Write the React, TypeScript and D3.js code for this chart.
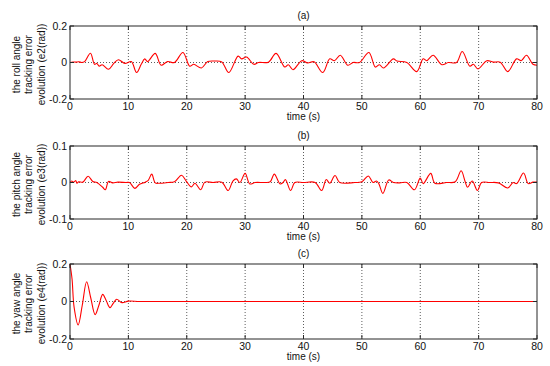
import React from "react";
import * as d3 from "d3";

const xTicks = [0, 10, 20, 30, 40, 50, 60, 70, 80];

const rollT = [0, 0.5, 1, 1.5, 2, 2.5, 3.5, 4.2, 4.6, 5.0, 5.5, 6.6, 7.5, 8.3, 9.4, 10.5, 11.4, 12.2, 12.8, 13.3, 14.6, 15.6, 16.7, 17.9, 19.35, 20.5, 21.2, 22.5, 23.6, 24.8, 26, 27.2, 28.8, 29.4, 30.25, 31.5, 32.3, 34, 35.3, 36.8, 37.4, 38.2, 39.7, 40.7, 41.8, 43.3, 44.5, 45.3, 46.3, 47.6, 48.5, 49.6, 51.2, 52.3, 53, 53.7, 55.4, 56, 57.7, 59.4, 60.5, 61.1, 62.2, 63.7, 64.8, 66.2, 67.2, 68.5, 69.1, 69.9, 71.4, 72.5, 73.7, 75, 76.5, 77.3, 78.2, 79.3, 80];
const rollV = [0, 0.003, 0.002, 0.004, 0, 0.005, 0.051, -0.01, -0.005, -0.02, -0.012, -0.037, -0.005, 0.015, -0.005, 0.005, -0.055, -0.01, 0.02, 0.005, 0.05, -0.015, 0.005, 0, 0.055, -0.02, -0.01, -0.03, 0.005, 0.008, 0.003, -0.055, 0.035, 0.02, 0.03, -0.01, 0, 0.002, 0.05, -0.025, -0.012, -0.04, 0.01, -0.003, 0.004, -0.055, 0.02, 0.01, 0.04, -0.015, 0, 0, 0.055, -0.025, -0.012, -0.03, 0.02, 0.008, 0, -0.05, 0.02, 0.01, 0.04, -0.012, 0, 0, 0.06, -0.02, -0.01, -0.035, 0.01, 0.002, 0.002, -0.05, 0.02, 0.01, 0.04, -0.01, -0.015];

const pitchT = [0, 0.3, 0.6, 1.0, 1.2, 1.5, 2.2, 3.1, 3.9, 4.6, 5.6, 6.05, 6.6, 7.3, 8.2, 9.6, 10.2, 11.1, 11.9, 12.9, 13.4, 14.0, 14.6, 15.3, 16.8, 17.9, 19.1, 19.9, 20.8, 21.4, 22.4, 23.1, 24.5, 26, 27.1, 27.9, 28.5, 29.1, 30, 30.8, 31.7, 33.4, 34.3, 35, 36, 36.5, 36.9, 37.8, 38.5, 40, 42, 43.1, 43.9, 44.5, 45.4, 46.2, 48.8, 50, 51.1, 51.9, 52.5, 52.9, 53.6, 54.6, 55.4, 56.5, 57.7, 59, 60, 60.5, 61.8, 62.5, 64.5, 66, 67, 67.7, 68.1, 68.9, 69.8, 70.5, 71.9, 73.4, 75, 75.9, 76.5, 77.7, 78.5, 79.3, 80];
const pitchV = [0, 0.004, 0.001, 0.005, -0.002, 0.002, 0.001, 0.017, 0.003, 0, -0.013, -0.02, 0.003, -0.001, 0.001, 0, 0, -0.016, -0.005, 0.001, 0.006, 0.023, -0.001, -0.002, 0, 0.002, 0.02, 0.004, -0.012, -0.002, -0.02, 0.001, 0, 0.001, -0.022, 0.004, 0.01, 0, 0.025, -0.004, 0, 0, 0.002, 0.023, -0.004, 0, 0.008, -0.022, 0, 0, 0, -0.022, 0.008, -0.002, 0.019, 0, 0, 0.002, 0.018, 0, 0.004, -0.003, -0.03, 0.007, 0, -0.001, 0, -0.02, 0.012, -0.003, 0.025, -0.002, 0, 0.002, 0.032, 0.002, -0.013, 0.004, -0.022, 0, 0, -0.001, -0.015, 0, -0.003, 0.026, -0.003, 0.001, 0.001];

const yawT = [0, 0.35, 0.7, 1.4, 2.1, 2.85, 3.55, 4.3, 4.95, 5.6, 6.2, 6.85, 7.4, 8, 8.9, 10, 12, 20, 40, 60, 80];
const yawV = [0.2, 0.12, -0.03, -0.125, -0.02, 0.105, 0.02, -0.07, -0.02, 0.038, 0.005, -0.033, -0.01, 0.012, -0.006, 0.002, 0, 0, 0, 0, 0];

const panels = [
  { title: "(a)", top: 26, bottom: 99, yMax: 0.2, yTicks: [-0.2, 0, 0.2], yTickLabels: ["-0.2", "0", "0.2"], t: rollT, v: rollV, label: ["the roll angle", "tracking error", "evolution (e2(rad))"] },
  { title: "(b)", top: 146, bottom: 219, yMax: 0.1, yTicks: [-0.1, 0, 0.1], yTickLabels: ["-0.1", "0", "0.1"], t: pitchT, v: pitchV, label: ["the pitch angle", "tracking error", "evolution (e3(rad))"] },
  { title: "(c)", top: 264, bottom: 339, yMax: 0.2, yTicks: [-0.2, 0, 0.2], yTickLabels: ["-0.2", "0", "0.2"], t: yawT, v: yawV, label: ["the yaw angle", "tracking error", "evolution (e4(rad))"] },
];

const LEFT = 70;
const RIGHT = 537;
const FONT = "'Liberation Sans', Arial, sans-serif";

export default function App() {
  const x = d3.scaleLinear().domain([0, 80]).range([LEFT, RIGHT]);
  return (
    <svg width={550} height={366} style={{ position: "absolute", left: 0, top: 0, background: "#fff" }} fontFamily={FONT}>
      <rect x={0} y={0} width={550} height={366} fill="#fff" />
      {panels.map((p, i) => {
        const y = d3.scaleLinear().domain([-p.yMax, p.yMax]).range([p.bottom, p.top]);
        const line = d3
          .line<number>()
          .x((_, k) => x(p.t[k]))
          .y((d) => y(d))
          .curve(d3.curveCatmullRom.alpha(0.5));
        const mid = (p.top + p.bottom) / 2;
        return (
          <g key={i}>
            {xTicks.slice(1, -1).map((t) => (
              <line key={t} x1={x(t)} x2={x(t)} y1={p.top} y2={p.bottom} stroke="#333" strokeWidth={0.8} strokeDasharray="1,2" />
            ))}
            <line x1={LEFT} x2={RIGHT} y1={y(0)} y2={y(0)} stroke="#333" strokeWidth={0.8} strokeDasharray="1,2" />
            <path d={line(p.v) || ""} fill="none" stroke="#ff0000" strokeWidth={1.1} />
            <rect x={LEFT} y={p.top} width={RIGHT - LEFT} height={p.bottom - p.top} fill="none" stroke="#262626" strokeWidth={1} />
            {xTicks.map((t) => (
              <g key={t}>
                <line x1={x(t)} x2={x(t)} y1={p.bottom} y2={p.bottom - 4} stroke="#262626" />
                <line x1={x(t)} x2={x(t)} y1={p.top} y2={p.top + 4} stroke="#262626" />
                <text x={x(t)} y={p.bottom + 11} fontSize={10.5} textAnchor="middle" fill="#111">{t}</text>
              </g>
            ))}
            {p.yTicks.map((t, k) => (
              <g key={k}>
                <line x1={LEFT} x2={LEFT + 4} y1={y(t)} y2={y(t)} stroke="#262626" />
                <line x1={RIGHT} x2={RIGHT - 4} y1={y(t)} y2={y(t)} stroke="#262626" />
                <text x={LEFT - 3} y={y(t)} dy="0.35em" fontSize={10.5} textAnchor="end" fill="#111">{p.yTickLabels[k]}</text>
              </g>
            ))}
            <text x={(LEFT + RIGHT) / 2} y={p.top - 7} fontSize={10} textAnchor="middle" fill="#111">{p.title}</text>
            <text x={(LEFT + RIGHT) / 2} y={p.bottom + 21} fontSize={10} textAnchor="middle" fill="#111">time (s)</text>
            {p.label.map((s, k) => (
              <text key={k} transform={`translate(${19.5 + k * 12.5},${mid + 2}) rotate(-90)`} fontSize={10} textAnchor="middle" fill="#111">{s}</text>
            ))}
          </g>
        );
      })}
    </svg>
  );
}
